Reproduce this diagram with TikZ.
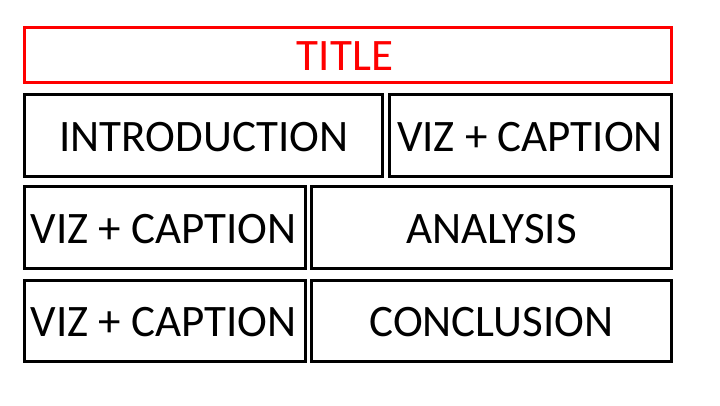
\documentclass[tikz,border=0pt]{standalone}
\usepackage{fontspec}
\setmainfont{Carlito}
\begin{document}
\begin{tikzpicture}[x=1pt,y=-1pt,
  panel/.style={draw=black,line width=3pt},
  titlepanel/.style={draw=red,line width=3pt},
  lbl/.style={font=\fontsize{45}{50}\selectfont},
  ttl/.style={font=\fontsize{45}{50}\selectfont,text=red}]
\useasboundingbox (0,0) rectangle (720,405);
% title strip
\draw[titlepanel] (24.5,27.5) rectangle (671.5,82.5);
\node[ttl] (title) at (345,56.5) {TITLE};
% row 1
\draw[panel] (24,94.5) rectangle (382,176);
\draw[panel] (389,94.5) rectangle (671.5,176);
\node[lbl] (intro) at (204,137) {INTRODUCTION};
\node[lbl] (viz1) at (530,137) {VIZ + CAPTION};
% row 2
\draw[panel] (24,186.5) rectangle (305,268.5);
\draw[panel] (311.5,186.5) rectangle (671.5,268.5);
\node[lbl] (viz2) at (163.5,229.5) {VIZ + CAPTION};
\node[lbl] (analysis) at (491.5,229.5) {ANALYSIS};
% row 3
\draw[panel] (24,280) rectangle (305,361.5);
\draw[panel] (311.5,280) rectangle (671.5,361.5);
\node[lbl] (viz3) at (163.5,322.5) {VIZ + CAPTION};
\node[lbl] (conclusion) at (491.5,322.5) {CONCLUSION};
\end{tikzpicture}
\end{document}
